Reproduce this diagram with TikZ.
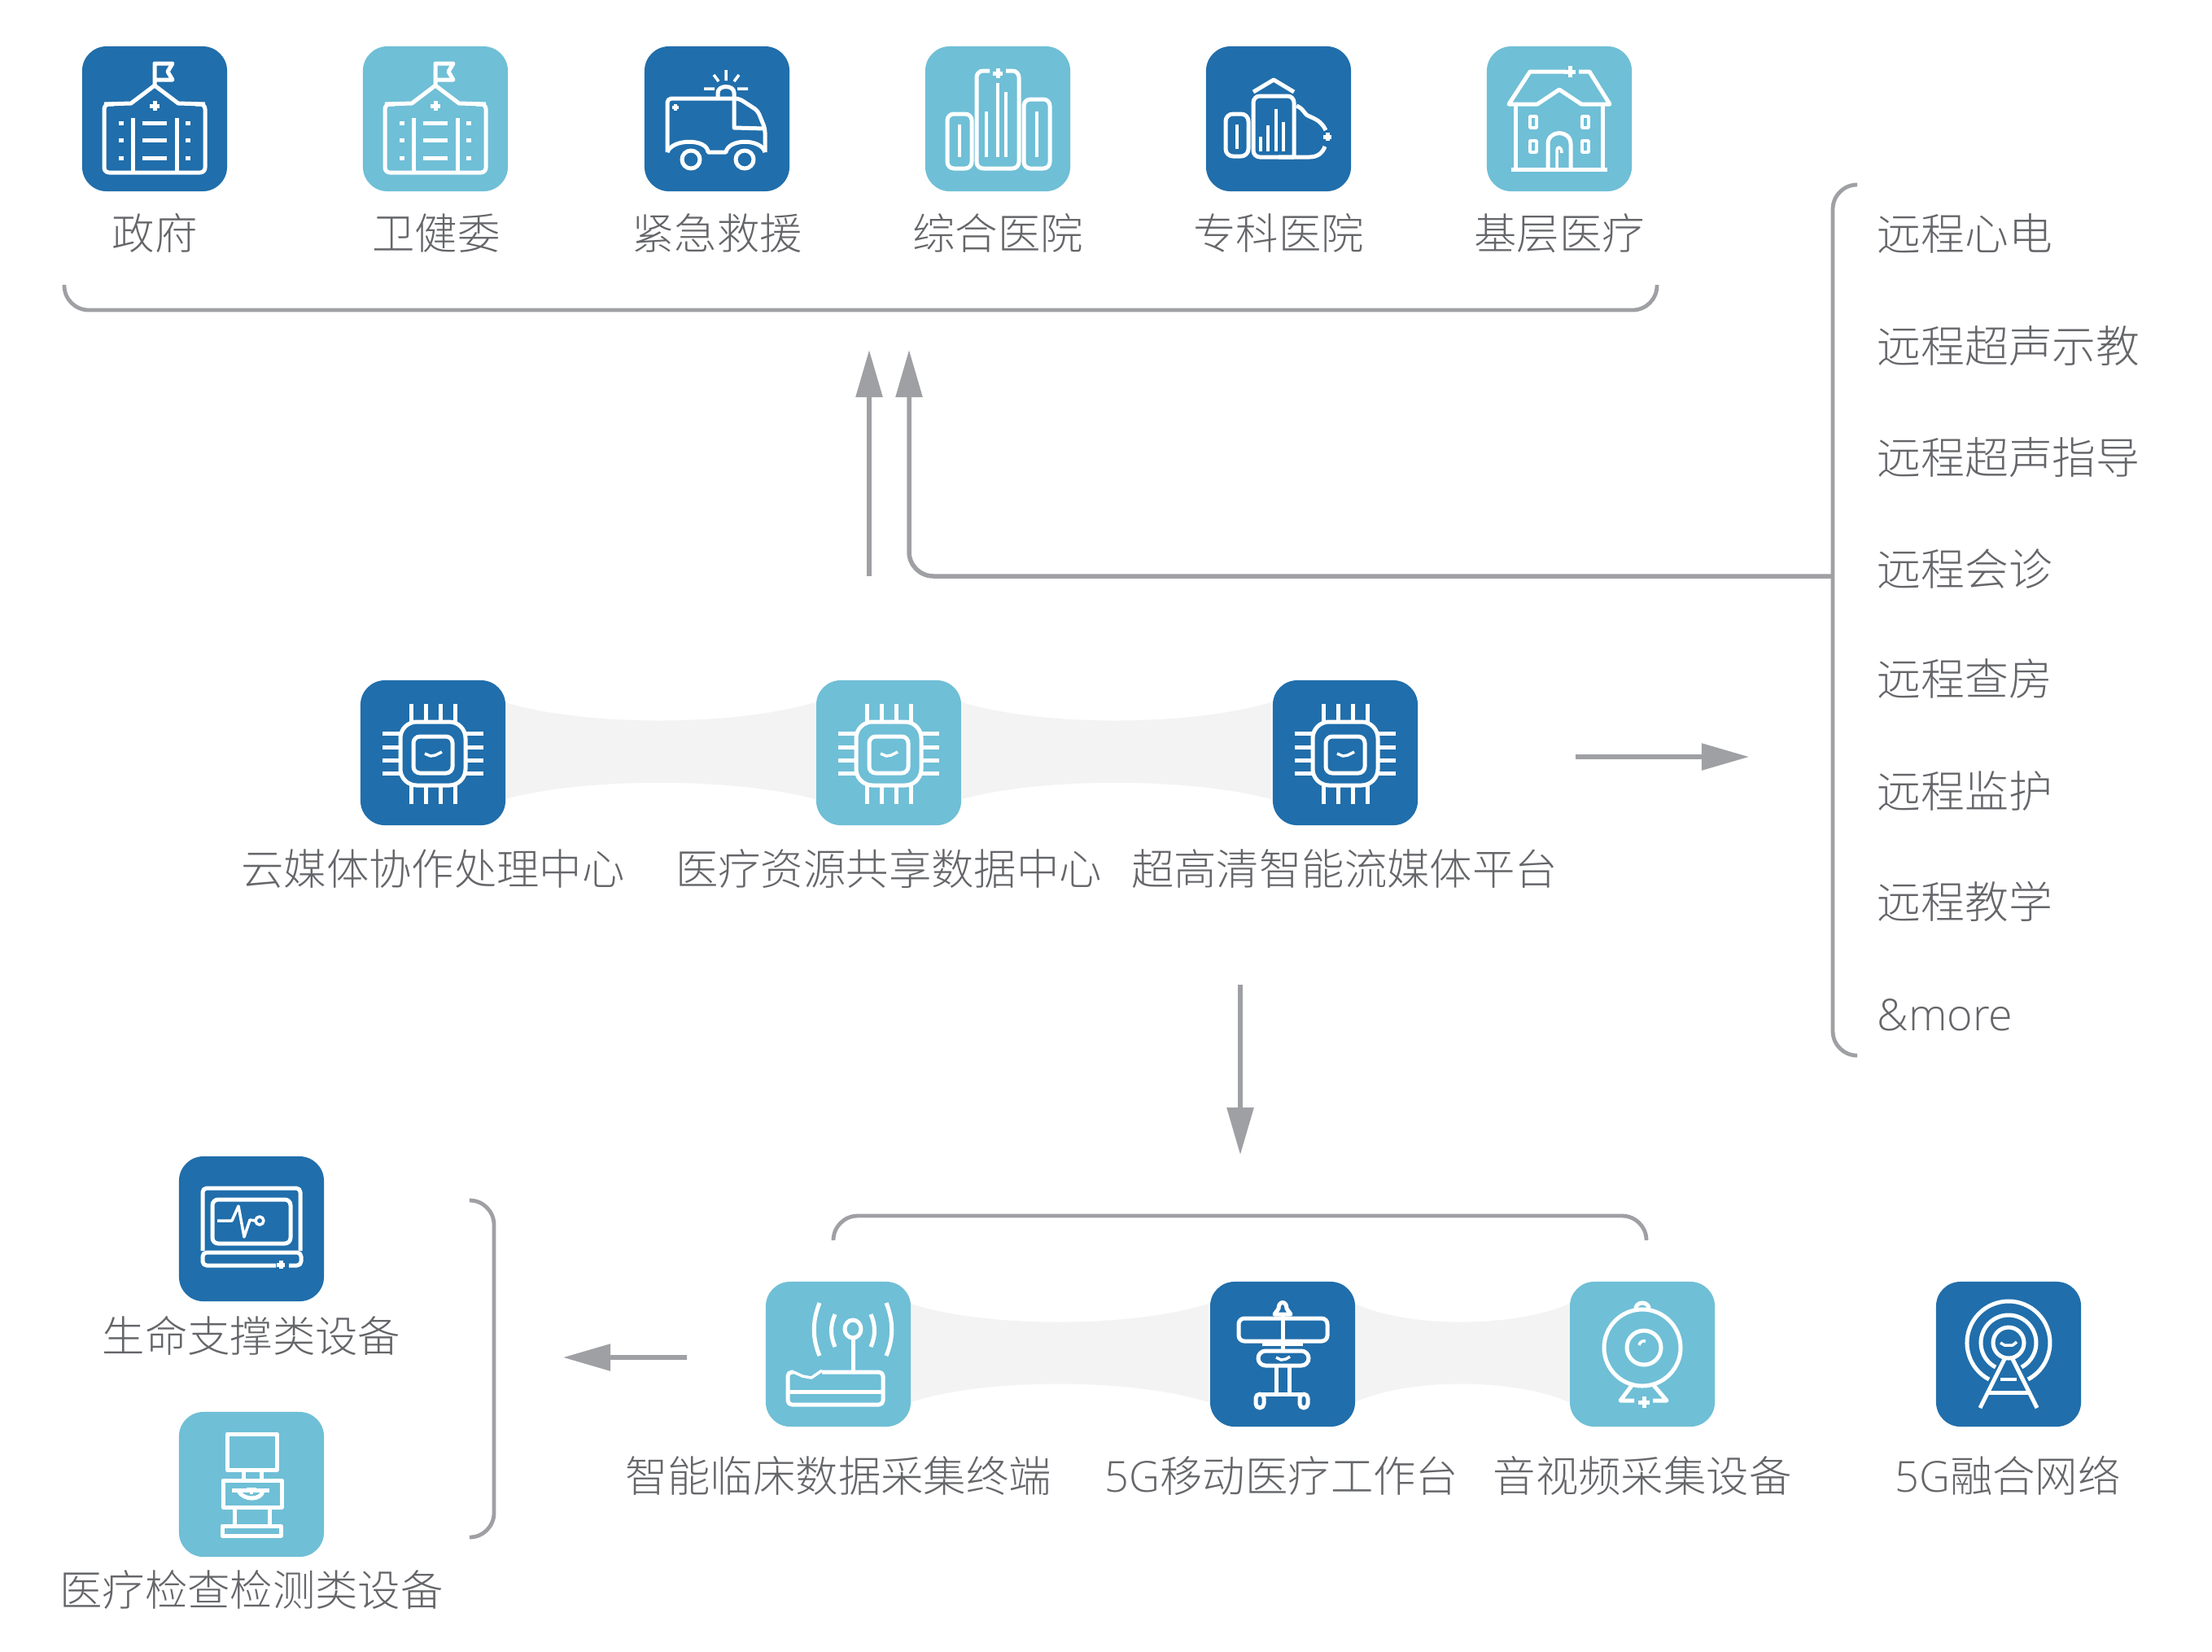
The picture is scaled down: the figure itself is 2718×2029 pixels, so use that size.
\documentclass[tikz,border=0pt]{standalone}
\usepackage{xcolor}
\usepackage{fontspec}
\setmainfont{Noto Sans CJK SC}[UprightFont=* Light]
\newfontfamily\lat{Open Sans}[UprightFont=* Light]
\usetikzlibrary{arrows.meta}
\definecolor{darkblue}{HTML}{206EAB}
\definecolor{lightblue}{HTML}{6FBFD6}
\definecolor{linegray}{HTML}{9FA0A4}
\definecolor{textgray}{HTML}{65666A}
\definecolor{bandgray}{HTML}{F3F3F4}
\tikzset{
    darktile/.style={fill=darkblue,minimum size=1.78cm,inner sep=0pt,rounded corners=.3cm},
    lighttile/.style={fill=lightblue,minimum size=1.78cm,inner sep=0pt,rounded corners=.3cm},
    lbl/.style={text=textgray,font=\fontsize{14.9pt}{17pt}\selectfont,inner sep=0pt,text height=.45cm,text depth=.08cm},
    item/.style={lbl,anchor=west,font=\fontsize{15.3pt}{17pt}\selectfont},
    brace/.style={draw=linegray,line width=.048cm,rounded corners=.3cm},
    flow/.style={draw=linegray,line width=.055cm,rounded corners=.3cm,-{Triangle[length=.58cm,width=.32cm]}},
    ico/.style={draw=white,line width=.05cm,line join=round},
    thin/.style={draw=white,line width=.035cm,line join=round},
    pics/gov/.style={code={
        \draw[ico] (0,-41) -- (0,-68) -- (22,-68) -- (16,-58) -- (22,-48) -- (0,-48);
        \draw[ico] (0,-41) -- (-29,-19) -- (-62,-18) (0,-41) -- (29,-19) -- (62,-18);
        \draw[ico,rounded corners=.06cm] (-50,-18) -- (-62,-18) -- (-62,66) -- (62,66) -- (62,-18) -- (50,-18);
        \draw[ico] (-6,-16) -- (6,-16) (0,-22) -- (0,-10);
        \draw[ico] (-27,-1) -- (-27,66) (27,-1) -- (27,66);
        \draw[ico] (-15,5) -- (15,5) (-15,26) -- (15,26) (-15,48) -- (15,48);
        \draw[ico] (-44,5) -- (-38,5) (-44,26) -- (-38,26) (-44,48) -- (-38,48);
        \draw[ico] (38,5) -- (44,5) (38,26) -- (44,26) (38,48) -- (44,48);
    }},
    pics/van/.style={code={
        \draw[ico,rounded corners=.05cm] (-61,41) -- (-61,-25) -- (27,-25) -- (50,-10) -- (59,12) -- (59,41);
        \draw[ico] (21,-25) -- (21,11) -- (59,12);
        \draw[ico] (-61,41) .. controls (-55,24) and (-12,24) .. (-11,41) -- (11,41) .. controls (14,24) and (54,24) .. (59,41);
        \draw[ico] (-32,50) circle[radius=11];
        \draw[ico] (34,50) circle[radius=11];
        \draw[ico] (1,-26) -- (1,-32) .. controls (1,-42) and (21,-42) .. (21,-32) -- (21,-26);
        \draw[thin] (11,-60) -- (11,-47) (-4,-54) -- (2,-46) (27,-54) -- (21,-46) (-16,-37) -- (-3,-37) (25,-37) -- (38,-37);
        \draw[thin] (-55,-14) -- (-47,-14) (-51,-18) -- (-51,-10);
    }},
    pics/bars/.style={code={
        \draw[ico,rounded corners=.08cm] (-62,-6) rectangle (-32,61);
        \draw[ico,rounded corners=.08cm] (32,-24) rectangle (64,61);
        \draw[ico,rounded corners=.08cm] (-10,-59) -- (-26,-59) -- (-26,61) -- (26,61) -- (26,-59) -- (10,-59);
        \draw[thin] (-47,7) -- (-47,47) (48,-9) -- (48,47) (-14,-9) -- (-14,47) (0,-44) -- (0,47) (10,-33) -- (10,47);
        \draw[ico] (-6,-56) -- (6,-56) (0,-62) -- (0,-50);
    }},
    pics/cloudchart/.style={code={
        \draw[ico,rounded corners=.09cm] (-65,-6) rectangle (-37,46);
        \draw[thin] (-51,7) -- (-51,37);
        \draw[ico,rounded corners=.08cm] (19,47) -- (-31,47) -- (-31,-28) -- (19,-28) -- (19,47);
        \draw[ico] (-31,-33) -- (-6,-48) -- (19,-33);
        \draw[thin] (-22,22) -- (-22,40) (-13,8) -- (-13,40) (-3,-12) -- (-3,40) (6,4) -- (6,40);
        \draw[ico] (22,-16) .. controls (32,-12) and (32,-4) .. (38,-3) .. controls (50,2) and (54,6) .. (58,14);
        \draw[ico] (57,34) .. controls (54,42) and (48,47) .. (38,47) -- (0,47);
        \draw[ico] (55,22) -- (65,22) (60,17) -- (60,27);
    }},
    pics/house/.style={code={
        \draw[ico] (8,-58) -- (-36,-58) -- (-62,-18) -- (-27,-18) -- (0,-36) -- (27,-18) -- (62,-18) -- (37,-58) -- (24,-58);
        \draw[ico] (6,-58) -- (20,-58) (13,-65) -- (13,-51);
        \draw[ico] (-54,-18) -- (-54,62) (53,-18) -- (53,62);
        \draw[ico] (-59,62) -- (59,62);
        \draw[thin] (-36,-3) rectangle (-28,11) (28,-3) rectangle (36,11) (-36,27) rectangle (-28,41) (28,27) rectangle (36,41);
        \draw[ico] (-14,62) -- (-14,31) .. controls (-14,13) and (14,13) .. (14,31) -- (14,62);
        \draw[thin] (-3,62) -- (-3,40) .. controls (-3,32) and (3,34) .. (3,42);
    }},
    pics/chip/.style={code={
        \draw[ico,rounded corners=.2cm] (-40,-38) rectangle (40,40);
        \draw[ico,rounded corners=.08cm] (-24,-20) rectangle (24,25);
        \draw[thin] (-10,1) -- (-3,4) -- (3,3) -- (11,-1);
        \draw[ico] (-27,-60) -- (-27,-36) (-9,-60) -- (-9,-38) (9,-60) -- (9,-38) (27,-60) -- (27,-36);
        \draw[ico] (-27,63) -- (-27,38) (-9,63) -- (-9,40) (9,63) -- (9,40) (27,63) -- (27,38);
        \draw[ico] (-62,-24) -- (-38,-24) (-62,-7) -- (-40,-7) (-62,9) -- (-40,9) (-62,25) -- (-38,25);
        \draw[ico] (62,-24) -- (38,-24) (62,-7) -- (40,-7) (62,9) -- (40,9) (62,25) -- (38,25);
    }},
    pics/router/.style={code={
        \draw[ico,rounded corners=.05cm] (-20,22) -- (55,22) -- (55,62) -- (-62,62) -- (-62,22) -- (-55,22);
        \draw[ico] (-62,46) -- (55,46);
        \draw[thin] (-55,22) -- (-44,27) -- (-33,29) -- (-20,20);
        \draw[ico] (18,22) -- (18,-20);
        \draw[ico] (18,-31) circle[x radius=10,y radius=11];
        \draw[ico] (-4,-49) .. controls (-10,-35) and (-10,-23) .. (-4,-9);
        \draw[ico] (-23,-63) .. controls (-32,-40) and (-32,-20) .. (-23,2);
        \draw[ico] (40,-49) .. controls (46,-35) and (46,-23) .. (40,-9);
        \draw[ico] (59,-63) .. controls (68,-40) and (68,-20) .. (59,2);
    }},
    pics/cart/.style={code={
        \draw[ico] (-10,-49) -- (10,-49) -- (5,-56) .. controls (5,-66) and (-5,-66) .. (-5,-56) -- cycle;
        \draw[ico] (0,-49) -- (0,-4);
        \draw[ico,rounded corners=.07cm] (-54,-44) rectangle (55,-16);
        \draw[ico] (-25,-13) -- (25,-13);
        \draw[ico,rounded corners=.09cm] (-30,-4) rectangle (32,14);
        \draw[thin] (-8,4) -- (-2,7) -- (4,6) -- (9,3);
        \draw[ico] (-8,14) -- (-8,49) (8,14) -- (8,49);
        \draw[ico] (-28,49) -- (26,49);
        \draw[ico,rounded corners=.05cm] (-33,49) rectangle (-23,66);
        \draw[ico,rounded corners=.05cm] (21,49) rectangle (31,66);
    }},
    pics/cam/.style={code={
        \draw[ico] (0,-8) circle[radius=47];
        \draw[ico] (2,-8) circle[radius=21];
        \draw[thin] (-4,-11) .. controls (-3,-15) and (0,-17) .. (4,-16);
        \draw[ico] (-8,-54) .. controls (-10,-66) and (10,-66) .. (8,-54);
        \draw[ico] (-11,36) -- (-27,57) -- (-10,57);
        \draw[ico] (12,36) -- (30,57) -- (13,57);
        \draw[ico] (-5,59) -- (9,59) (2,52) -- (2,66);
    }},
    pics/tower/.style={code={
        \draw[ico] (0,-14) circle[radius=19];
        \draw[ico] (0,-14) ++(-16,30) arc[start angle=118,end angle=422,radius=34];
        \draw[ico] (0,-14) ++(-24,45) arc[start angle=118,end angle=422,radius=51];
        \draw[thin] (-10,-14) -- (-5,-11) -- (5,-11) -- (10,-15);
        \draw[ico] (-5,6) -- (-35,66) (5,6) -- (35,66);
        \draw[ico] (-24,47) -- (24,47);
        \draw[thin] (-10,31) -- (10,31);
    }},
    pics/monitor/.style={code={
        \draw[ico,rounded corners=.05cm] (-60,27) -- (-60,-50) -- (60,-50) -- (60,27);
        \draw[ico,rounded corners=.07cm] (-48,-36) rectangle (48,18);
        \draw[ico,rounded corners=.05cm] (30,45) -- (-60,45) -- (-60,29) -- (61,29) -- (61,45) -- (46,45);
        \draw[ico] (31,44) -- (41,44) (36,39) -- (36,49);
        \draw[thin] (-42,-10) -- (-24,-10) -- (-16,-28) -- (-9,10) -- (-2,-11) -- (5,-10);
        \draw[thin] (10,-10) circle[radius=5];
    }},
    pics/scanner/.style={code={
        \draw[ico] (-30,-62) rectangle (31,-18);
        \draw[ico] (-10,-18) -- (-10,-5) (12,-18) -- (12,-5);
        \draw[ico] (-35,-5) rectangle (37,28);
        \draw[ico] (-24,7) -- (22,7);
        \draw[ico] (-16,8) .. controls (-10,20) and (12,20) .. (14,8);
        \draw[thin] (-6,6) -- (6,6) (0,6) -- (0,12);
        \draw[ico] (-21,28) -- (-21,51) (22,28) -- (22,51);
        \draw[ico] (-36,51) rectangle (36,63);
    }},
}

\begin{document}
\begin{tikzpicture}[x=.01cm,y=-.01cm]
    \path[use as bounding box,fill=white] (0,0) rectangle (2718,2029);
    \fill[bandgray] (620,863) .. controls (720,893) and (900,893) .. (1002,863) -- (1002,982) .. controls (900,955) and (720,955) .. (620,982) -- cycle;
    \fill[bandgray] (1182,863) .. controls (1280,893) and (1460,893) .. (1562,863) -- (1562,982) .. controls (1460,955) and (1280,955) .. (1182,982) -- cycle;
    \fill[bandgray] (1119,1602) .. controls (1210,1632) and (1390,1632) .. (1485,1602) -- (1485,1723) .. controls (1390,1693) and (1210,1693) .. (1119,1723) -- cycle;
    \fill[bandgray] (1665,1602) .. controls (1730,1632) and (1860,1632) .. (1928,1602) -- (1928,1723) .. controls (1860,1693) and (1730,1693) .. (1665,1723) -- cycle;

    \node[darktile] (zf) at (190,146) {};
    \node[lighttile] (wjw) at (535,146) {};
    \node[darktile] (jj) at (881,146) {};
    \node[lighttile] (zh) at (1226,146) {};
    \node[darktile] (zk) at (1571,146) {};
    \node[lighttile] (jc) at (1916,146) {};
    \pic at (zf) {gov};
    \pic at (wjw) {gov};
    \pic at (jj) {van};
    \pic at (zh) {bars};
    \pic at (zk) {cloudchart};
    \pic at (jc) {house};
    \node[lbl] (zflbl) at (190,288) {政府};
    \node[lbl] (wjwlbl) at (536,288) {卫健委};
    \node[lbl] (jjlbl) at (881,288) {紧急救援};
    \node[lbl] (zhlbl) at (1226,288) {综合医院};
    \node[lbl] (zklbl) at (1571,288) {专科医院};
    \node[lbl] (jclbl) at (1916,288) {基层医疗};

    \node[darktile] (ymt) at (532,925) {};
    \node[lighttile] (zy) at (1092,925) {};
    \node[darktile] (cgq) at (1653,925) {};
    \pic at (ymt) {chip};
    \pic at (zy) {chip};
    \pic at (cgq) {chip};
    \node[lbl] (ymtlbl) at (532,1069) {云媒体协作处理中心};
    \node[lbl] (zylbl) at (1092,1069) {医疗资源共享数据中心};
    \node[lbl] (cgqlbl) at (1652,1069) {超高清智能流媒体平台};

    \node[lighttile] (zncj) at (1030,1664) {};
    \node[darktile] (gzt) at (1576,1664) {};
    \node[lighttile] (spcj) at (2018,1664) {};
    \node[darktile] (wl) at (2468,1664) {};
    \pic at (zncj) {router};
    \pic at (gzt) {cart};
    \pic at (spcj) {cam};
    \pic at (wl) {tower};
    \node[lbl] (znlbl) at (1030,1815) {智能临床数据采集终端};
    \node[lbl] (gztlbl) at (1575,1815) {{\lat 5G}移动医疗工作台};
    \node[lbl] (splbl) at (2018,1815) {音视频采集设备};
    \node[lbl] (wllbl) at (2467,1815) {{\lat 5G}融合网络};

    \node[darktile] (smzc) at (309,1510) {};
    \node[lighttile] (jcjc) at (309,1824) {};
    \pic at (smzc) {monitor};
    \pic at (jcjc) {scanner};
    \node[lbl] (smlbl) at (309,1643) {生命支撑类设备};
    \node[lbl] (jjclbl) at (309,1955) {医疗检查检测类设备};

    \node[item] (ycxd) at (2306,289) {远程心电};
    \node[item] (ycsj) at (2306,427) {远程超声示教};
    \node[item] (yczd) at (2306,564) {远程超声指导};
    \node[item] (ychz) at (2306,701) {远程会诊};
    \node[item] (yccf) at (2306,836) {远程查房};
    \node[item] (ycjh) at (2306,974) {远程监护};
    \node[item] (ycjx) at (2306,1110) {远程教学};
    \node[item] (more) at (2306,1248) {{\lat \&more}};

    \coordinate (topl) at (79,350);
    \coordinate (topr) at (2036,350);
    \coordinate (listt) at (2282,227);
    \coordinate (listb) at (2282,1297);
    \coordinate (listm) at (2252,708);
    \coordinate (botl) at (1024,1522);
    \coordinate (botr) at (2023,1522);
    \coordinate (devt) at (577,1475);
    \coordinate (devb) at (577,1889);
    \draw[brace] (topl) |- (topr |- 0,381) -- (topr);
    \draw[brace] (listt) -| (2252,1297) -- (listb);
    \draw[brace] (botl) |- (botr |- 0,1494) -- (botr);
    \draw[brace] (devt) -| (607,1889) -- (devb);

    \coordinate (upa) at (1068,708);
    \coordinate (upb) at (1068,430);
    \coordinate (upc) at (1117,430);
    \coordinate (righta) at (1936,930);
    \coordinate (rightb) at (2149,930);
    \coordinate (downa) at (1524,1210);
    \coordinate (downb) at (1524,1419);
    \coordinate (lefta) at (844,1668);
    \coordinate (leftb) at (692,1668);
    \draw[flow] (upa) -- (upb);
    \draw[flow] (listm) -| (upc);
    \draw[flow] (righta) -- (rightb);
    \draw[flow] (downa) -- (downb);
    \draw[flow] (lefta) -- (leftb);
\end{tikzpicture}
\end{document}
